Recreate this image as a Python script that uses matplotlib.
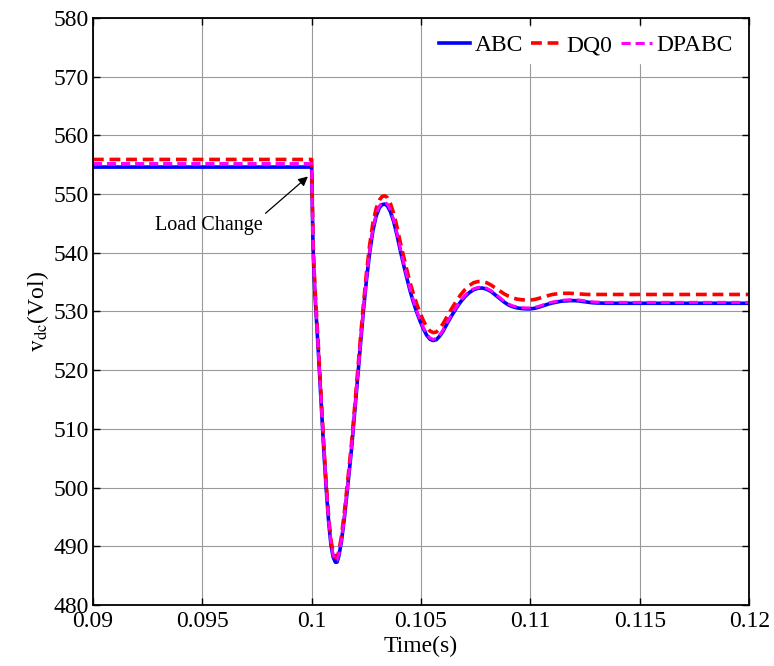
import matplotlib
matplotlib.use("Agg")
import matplotlib.pyplot as plt

plt.rcParams['font.family'] = ['Liberation Serif', 'DejaVu Serif']
plt.rcParams['mathtext.fontset'] = 'stix'

# time axis (s), shared by all three traces
t_s = [0.09, 0.1, 0.10003, 0.10006, 0.1001, 0.10015, 0.10022, 0.1003, 0.10044, 0.10056,
       0.10067, 0.10078, 0.10088, 0.10098, 0.10108, 0.10116, 0.10124, 0.10136, 0.1015, 0.10165,
       0.10182, 0.10197, 0.10212, 0.10224, 0.10235, 0.1025, 0.10265, 0.1028, 0.10295, 0.1031,
       0.10322, 0.10334, 0.10346, 0.1036, 0.10375, 0.1039, 0.10405, 0.1042, 0.10435, 0.1045,
       0.10465, 0.1048, 0.10495, 0.1051, 0.10525, 0.1054, 0.10555, 0.1057, 0.10585, 0.106,
       0.1062, 0.1064, 0.1066, 0.1068, 0.107, 0.1072, 0.1074, 0.1076, 0.1078, 0.108,
       0.1082, 0.1084, 0.1086, 0.1088, 0.109, 0.1092, 0.1094, 0.1096, 0.1098, 0.11,
       0.1102, 0.1104, 0.1106, 0.1108, 0.111, 0.1112, 0.1114, 0.1116, 0.1118, 0.112,
       0.1122, 0.1124, 0.1126, 0.1128, 0.113, 0.1135, 0.114, 0.115, 0.12]

v_abc = [554.6, 554.6, 548.0, 541.5, 537.0, 533.0, 528.5, 523.5, 514.0, 506.0,
         499.5, 494.0, 490.3, 488.2, 487.3, 487.3, 488.3, 490.8, 495.0, 500.3,
         506.5, 513.0, 519.5, 524.8, 529.5, 535.2, 540.0, 543.8, 546.3, 547.7,
         548.2, 548.3, 548.0, 547.0, 545.3, 543.0, 540.4, 538.0, 535.7, 533.5,
         531.6, 529.9, 528.4, 527.1, 526.0, 525.3, 525.05, 525.2, 525.8, 526.6,
         528.0, 529.3, 530.5, 531.6, 532.5, 533.2, 533.7, 533.95, 534.0, 533.8,
         533.4, 532.8, 532.2, 531.6, 531.1, 530.8, 530.6, 530.5, 530.45, 530.45,
         530.55, 530.75, 531.0, 531.25, 531.45, 531.6, 531.75, 531.8, 531.85, 531.85,
         531.8, 531.7, 531.6, 531.5, 531.45, 531.4, 531.4, 531.4, 531.4]

v_dq0 = [555.9, 555.9, 549.2, 542.7, 538.2, 534.2, 529.7, 524.6, 515.0, 507.0,
         500.4, 494.9, 491.1, 489.0, 488.1, 488.1, 489.1, 491.7, 496.0, 501.3,
         507.5, 514.0, 520.6, 525.9, 530.6, 536.4, 541.3, 545.1, 547.6, 549.0,
         549.6, 549.7, 549.4, 548.4, 546.7, 544.4, 541.8, 539.4, 537.1, 534.9,
         533.0, 531.3, 529.8, 528.5, 527.4, 526.7, 526.4, 526.5, 527.1, 527.9,
         529.2, 530.5, 531.7, 532.8, 533.7, 534.4, 534.9, 535.1, 535.1, 534.9,
         534.5, 534.0, 533.5, 533.0, 532.6, 532.3, 532.1, 532.0, 531.95, 531.95,
         532.05, 532.25, 532.5, 532.7, 532.9, 533.0, 533.1, 533.1, 533.1, 533.05,
         533.0, 532.95, 532.9, 532.9, 532.9, 532.9, 532.9, 532.9, 532.9]

v_dpabc = [555.2, 555.2, 548.4, 541.8, 537.3, 533.3, 528.8, 523.8, 514.3, 506.3,
           499.8, 494.3, 490.6, 488.5, 487.6, 487.6, 488.6, 491.1, 495.3, 500.6,
           506.8, 513.3, 519.8, 525.1, 529.8, 535.5, 540.3, 544.1, 546.6, 548.0,
           548.5, 548.6, 548.3, 547.3, 545.6, 543.3, 540.7, 538.3, 536.0, 533.8,
           531.9, 530.1, 528.6, 527.3, 526.2, 525.5, 525.25, 525.4, 526.0, 526.8,
           528.2, 529.5, 530.7, 531.8, 532.7, 533.4, 533.85, 534.1, 534.15, 533.95,
           533.55, 532.95, 532.35, 531.75, 531.25, 530.95, 530.75, 530.65, 530.6, 530.6,
           530.7, 530.9, 531.15, 531.4, 531.6, 531.75, 531.9, 531.95, 532.0, 532.0,
           531.95, 531.85, 531.75, 531.65, 531.6, 531.55, 531.55, 531.55, 531.55]

x_ticks = [0.09, 0.095, 0.1, 0.105, 0.11, 0.115, 0.12]
x_labels = ["0.09", "0.095", "0.1", "0.105", "0.11", "0.115", "0.12"]
y_ticks = list(range(480, 581, 10))

fig = plt.figure(figsize=(7.74, 6.66), dpi=100)
ax = fig.add_axes([0.120, 0.0916, 0.848, 0.8814])

ax.plot(t_s, v_abc, color="#0000ff", lw=2.6, label="ABC")
ax.plot(t_s, v_dq0, color="#ff0000", lw=2.6, ls=(0, (3, 1.6)), label="DQ0")
ax.plot(t_s, v_dpabc, color="#ff00ff", lw=2.2, ls=(0, (3, 1.6)), label="DPABC")

ax.set_xlim(0.09, 0.12)
ax.set_ylim(480, 580)
ax.set_xticks(x_ticks)
ax.set_xticklabels(x_labels)
ax.set_yticks(y_ticks)
ax.grid(True, color="#9a9a9a", lw=0.8, ls="-")
ax.tick_params(direction="in", top=True, right=True, length=5, width=1,
               labelsize=17)
ax.tick_params(axis="x", pad=4)
ax.tick_params(axis="y", pad=3)
for sp in ax.spines.values():
    sp.set_linewidth(1.3)

ax.set_xlabel("Time(s)", fontsize=17, labelpad=3)
ax.set_ylabel(r"$\mathrm{v_{dc}}$(Vol)", fontsize=17, labelpad=2)

ax.annotate("Load Change", xy=(0.09983, 553.0), xytext=(0.09284, 544.7),
            fontsize=14.5, ha="left", va="center",
            arrowprops=dict(arrowstyle="-|>", color="black", lw=0.9,
                            relpos=(1.0, 1.0), shrinkA=0, shrinkB=0,
                            mutation_scale=14))

leg = ax.legend(loc="upper right", ncol=3, fontsize=17, frameon=True,
                fancybox=False, edgecolor="white", framealpha=1,
                handlelength=1.3, handletextpad=0.2, columnspacing=0.35,
                borderpad=0.3, borderaxespad=0.4)

fig.savefig("out.png", dpi=100)
